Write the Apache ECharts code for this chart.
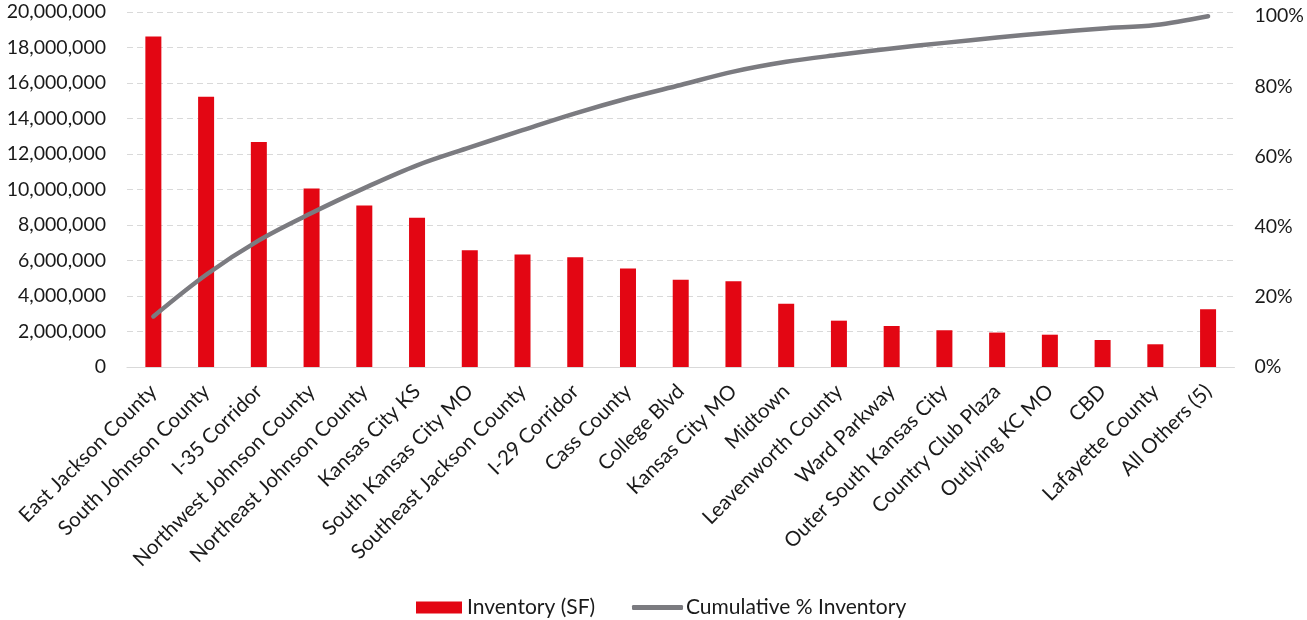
<!DOCTYPE html>
<html>
<head>
<meta charset="utf-8">
<title>Inventory by Submarket</title>
<script src="https://cdn.jsdelivr.net/npm/echarts@6/dist/echarts.min.js"></script>
<style>
  html, body { margin: 0; padding: 0; background: #fff; }
  #chart { width: 1307px; height: 620px; }
</style>
</head>
<body>
<div id="chart"></div>
<script>
// Submarkets, ordered by inventory
const categories = [
  'East Jackson County', 'South Johnson County', 'I-35 Corridor',
  'Northwest Johnson County', 'Northeast Johnson County', 'Kansas City KS',
  'South Kansas City MO', 'Southeast Jackson County', 'I-29 Corridor',
  'Cass County', 'College Blvd', 'Kansas City MO', 'Midtown',
  'Leavenworth County', 'Ward Parkway', 'Outer South Kansas City',
  'Country Club Plaza', 'Outlying KC MO', 'CBD', 'Lafayette County',
  'All Others (5)'
];

// Inventory in square feet
const inventorySF = [
  18620000, 15220000, 12680000, 10060000, 9100000, 8410000,
  6580000, 6340000, 6190000, 5550000, 4910000, 4830000, 3570000,
  2610000, 2310000, 2070000, 1940000, 1820000, 1520000, 1280000,
  3250000
];

// Running share of total inventory, percent
const cumulativePct = [
  14.4, 26.3, 36.1, 43.9, 51.0, 57.5, 62.6, 67.5, 72.3, 76.6,
  80.4, 84.2, 87.0, 89.0, 90.8, 92.4, 93.9, 95.3, 96.5, 97.5, 100.0
];

// Axis tick values
const leftTicks = { min: 0, max: 20000000, step: 2000000 };
const rightTicks = { min: 0, max: 101.2, step: 20 };

const FONT = 'Lato';
const TEXT = '#1a1a1a';
const BAR_RED = '#E30613';
const LINE_GRAY = '#7b7b80';
const GRID_GRAY = '#d9d9d9';

const chart = echarts.init(document.getElementById('chart'), null, { renderer: 'canvas' });

chart.setOption({
  animation: false,
  backgroundColor: '#fff',
  textStyle: { fontFamily: FONT, color: TEXT },
  grid: { left: 127, right: 71, top: 12, bottom: 253, containLabel: false },
  legend: [
    {
      data: [{ name: 'Inventory (SF)', icon: 'rect' }],
      left: 411, top: 592,
      itemWidth: 46, itemHeight: 12, itemGap: 0,
      textStyle: { fontFamily: FONT, fontSize: 21, color: TEXT }
    },
    {
      data: [{ name: 'Cumulative % Inventory', icon: 'roundRect',
               itemStyle: { color: LINE_GRAY } }],
      left: 627, top: 592,
      itemWidth: 51, itemHeight: 5, itemGap: 0,
      textStyle: { fontFamily: FONT, fontSize: 21, color: TEXT, padding: [0, 0, 0, -2] }
    }
  ],
  xAxis: {
    type: 'category',
    data: categories,
    boundaryGap: true,
    axisLine: { lineStyle: { color: GRID_GRAY, width: 1.2 } },
    axisTick: { show: false },
    axisLabel: {
      interval: 0,
      rotate: 45,
      margin: 21,
      fontFamily: FONT,
      fontSize: 20.5,
      color: TEXT
    }
  },
  yAxis: [
    {
      type: 'value',
      min: leftTicks.min,
      max: leftTicks.max,
      interval: leftTicks.step,
      axisLine: { show: false },
      axisTick: { show: false },
      axisLabel: {
        margin: 21,
        fontFamily: FONT,
        fontSize: 19.5,
        color: TEXT,
        formatter: v => v.toLocaleString('en-US')
      },
      splitLine: { lineStyle: { color: GRID_GRAY, type: [6, 4], width: 1.2 } }
    },
    {
      type: 'value',
      min: rightTicks.min,
      max: rightTicks.max,
      interval: rightTicks.step,
      axisLine: { show: false },
      axisTick: { show: false },
      splitLine: { show: false },
      axisLabel: {
        margin: 20,
        showMaxLabel: false,
        fontFamily: FONT,
        fontSize: 19.5,
        color: TEXT,
        formatter: v => (v % 20 === 0 ? v + '%' : '')
      }
    }
  ],
  series: [
    {
      name: 'Inventory (SF)',
      type: 'bar',
      data: inventorySF,
      barWidth: 16,
      itemStyle: { color: BAR_RED }
    },
    {
      name: 'Cumulative % Inventory',
      type: 'line',
      yAxisIndex: 1,
      data: cumulativePct,
      smooth: 0.35,
      symbol: 'none',
      lineStyle: { color: LINE_GRAY, width: 4.5, cap: 'round' },
      itemStyle: { color: LINE_GRAY },
      z: 3
    }
  ]
});
</script>
</body>
</html>
